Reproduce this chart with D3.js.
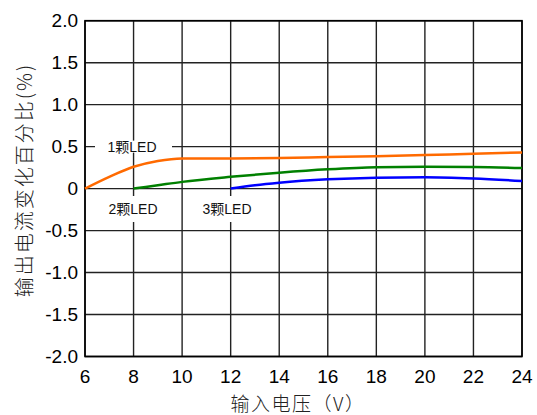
<!DOCTYPE html>
<html><head><meta charset="utf-8">
<script src="https://cdn.jsdelivr.net/npm/d3@7"></script>
<style>html,body{margin:0;padding:0;background:#fff;}</style>
</head><body>
<svg id="c" width="537" height="415"></svg>
<script>
const xTicks = [6, 8, 10, 12, 14, 16, 18, 20, 22, 24];
const yTicks = [2.0, 1.5, 1.0, 0.5, 0, -0.5, -1.0, -1.5, -2.0];
const yTickLabels = ["2.0", "1.5", "1.0", "0.5", "0", "-0.5", "-1.0", "-1.5", "-2.0"];

const led1X = [6, 7, 8, 9, 10, 12, 14, 16, 18, 20, 22, 24];
const led1Y = [0.0, 0.14, 0.26, 0.33, 0.36, 0.36, 0.365, 0.375, 0.385, 0.40, 0.415, 0.43];
const led2X = [8, 9, 10, 12, 14, 16, 18, 20, 22, 24];
const led2Y = [0.0, 0.04, 0.08, 0.14, 0.19, 0.23, 0.255, 0.26, 0.258, 0.245];
const led3X = [12, 13, 14, 16, 18, 20, 22, 24];
const led3Y = [0.0, 0.04, 0.07, 0.11, 0.13, 0.135, 0.12, 0.09];

const seriesNames = ["1颗LED", "2颗LED", "3颗LED"];
const seriesColors = ["#ff6a00", "#008000", "#0000ff"];
const xTitle = "输入电压（V）";
const yTitle = "输出电流变化百分比(%)";

const svg = d3.select("#c");
const x = d3.scaleLinear().domain([6, 24]).range([85, 522]);
const y = d3.scaleLinear().domain([-2, 2]).range([356.5, 20.7]);

// grid
const g = svg.append("g");
g.selectAll(".vg").data(xTicks).enter().append("line")
  .attr("x1", d => x(d)).attr("x2", d => x(d)).attr("y1", y(2)).attr("y2", y(-2))
  .attr("stroke", "#222").attr("stroke-width", 1.4);
g.selectAll(".hg").data(yTicks).enter().append("line")
  .attr("x1", x(6)).attr("x2", x(24)).attr("y1", d => y(d)).attr("y2", d => y(d))
  .attr("stroke", "#222").attr("stroke-width", 1.4);

// label backgrounds
const labels = [
  {t: seriesNames[0], cx: 132, cy: y(0.5), bx: 95, bw: 77, by: y(0.5) - 6, bh: 12},
  {t: seriesNames[1], cx: 133, cy: 209, bx: 104, bw: 58, by: 196, bh: 26},
  {t: seriesNames[2], cx: 227, cy: 209, bx: 198, bw: 58, by: 196, bh: 26}
];
svg.selectAll(".lb").data(labels).enter().append("rect")
  .attr("x", d => d.bx).attr("y", d => d.by).attr("width", d => d.bw).attr("height", d => d.bh)
  .attr("fill", "#fff");

// frame
svg.append("rect").attr("x", x(6)).attr("y", y(2)).attr("width", x(24) - x(6)).attr("height", y(-2) - y(2))
  .attr("fill", "none").attr("stroke", "#000").attr("stroke-width", 1.6);

// curves
const series = [[led1X, led1Y], [led2X, led2Y], [led3X, led3Y]];
const line = d3.line().x(d => x(d[0])).y(d => y(d[1])).curve(d3.curveMonotoneX);
series.forEach((s, i) => {
  const pts = s[0].map((v, j) => [v, s[1][j]]);
  svg.append("path").attr("d", line(pts)).attr("fill", "none")
    .attr("stroke", seriesColors[i]).attr("stroke-width", 2.5);
});

// label text
svg.selectAll(".lt").data(labels).enter().append("text")
  .attr("x", d => d.cx).attr("y", d => d.cy).attr("text-anchor", "middle").attr("dominant-baseline", "central")
  .attr("font-family", "Liberation Sans, Noto Sans CJK SC, sans-serif").attr("font-size", 14).attr("fill", "#111")
  .text(d => d.t);

// tick labels
svg.selectAll(".yt").data(yTicks).enter().append("text")
  .attr("x", 78).attr("y", d => y(d)).attr("text-anchor", "end").attr("dominant-baseline", "central")
  .attr("font-family", "Liberation Sans, Arial, sans-serif").attr("font-size", 19).attr("fill", "#000")
  .text((d, i) => yTickLabels[i]);
svg.selectAll(".xt").data(xTicks).enter().append("text")
  .attr("x", d => x(d)).attr("y", 376).attr("text-anchor", "middle").attr("dominant-baseline", "central")
  .attr("font-family", "Liberation Sans, Arial, sans-serif").attr("font-size", 19).attr("fill", "#000")
  .text(d => d);

// titles
svg.append("text").attr("x", 298).attr("y", 402).attr("text-anchor", "middle").attr("dominant-baseline", "central")
  .attr("font-family", "Noto Sans CJK SC, sans-serif").attr("font-size", 19).attr("font-weight", 300)
  .attr("letter-spacing", 1.5).attr("fill", "#222")
  .text(xTitle);
svg.append("text").attr("transform", "translate(23,180) rotate(-90)").attr("text-anchor", "middle").attr("dominant-baseline", "central")
  .attr("font-family", "Noto Sans CJK SC, sans-serif").attr("font-size", 20).attr("font-weight", 300)
  .attr("letter-spacing", 2).attr("fill", "#222")
  .text(yTitle);
</script>
</body></html>
